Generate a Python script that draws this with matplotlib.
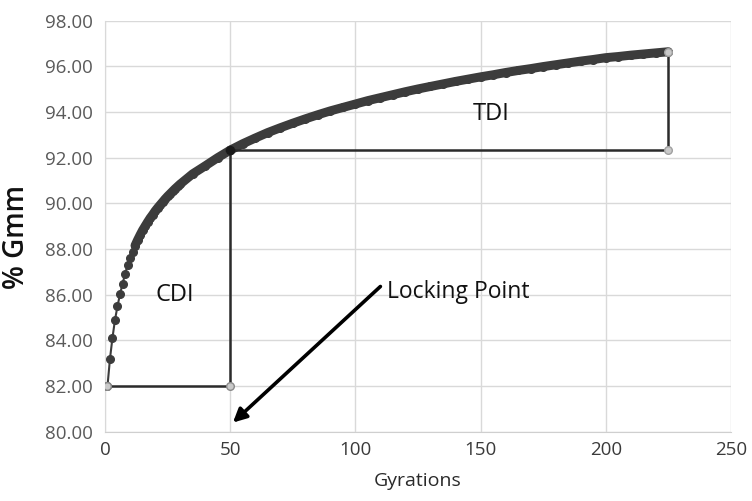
import matplotlib
matplotlib.use("Agg")
import matplotlib.pyplot as plt
import numpy as np

# Densification curve: %Gmm against gyration count
gyrations = [1, 2, 3, 4, 5, 6, 7, 8, 9, 10, 11, 12, 13, 14, 15, 16, 17, 18, 19, 20,
             21, 22, 23, 24, 25, 26, 27, 28, 29, 30, 35, 40, 45, 50, 55, 60, 65, 70,
             75, 80, 85, 90, 95, 100, 105, 110, 115, 120, 125, 130, 135, 140, 145,
             150, 155, 160, 165, 170, 175, 180, 185, 190, 195, 200, 205, 210, 215,
             220, 225]
gmm = [82.00, 83.20, 84.12, 84.90, 85.50, 86.02, 86.47, 86.90, 87.28, 87.60,
       87.89, 88.15, 88.39, 88.61, 88.82, 89.00, 89.18, 89.35, 89.50, 89.66,
       89.80, 89.93, 90.06, 90.19, 90.31, 90.42, 90.53, 90.64, 90.74, 90.84,
       91.29, 91.64, 92.00, 92.33, 92.61, 92.86, 93.10, 93.31, 93.51, 93.70,
       93.88, 94.05, 94.20, 94.35, 94.50, 94.63, 94.76, 94.89, 95.01, 95.12,
       95.23, 95.34, 95.44, 95.54, 95.63, 95.73, 95.82, 95.90, 95.99, 96.07,
       96.15, 96.23, 96.30, 96.38, 96.43, 96.49, 96.54, 96.59, 96.64]

# Construction lines for the two indices
cdi_x = [1, 50, 50]
cdi_y = [82.00, 82.00, 92.33]
tdi_x = [50, 225, 225]
tdi_y = [92.33, 92.33, 96.64]
locking_point = (50, 92.33)

FONT = "Open Sans"
CURVE = "#3c3c3c"
GRID = "#d9d9d9"

fig = plt.figure(figsize=(7.52, 5.01), dpi=100)
ax = fig.add_axes([0.1396, 0.1383, 0.8324, 0.8204])

x = np.array(gyrations)
y = np.array(gmm)
ax.plot(x, y, color=CURVE, lw=1.5, marker="o", ms=5.5, mec=CURVE, mfc=CURVE, zorder=4)
dense = x >= 12
ax.plot(x[dense], y[dense], color=CURVE, lw=6.5, solid_capstyle="round", zorder=4)

ax.plot(cdi_x, cdi_y, color="#2b2b2b", lw=1.8, marker="o", ms=5.5,
        mfc="#c9c9c9", mec="#8a8a8a", zorder=5)
ax.plot(tdi_x, tdi_y, color="#2b2b2b", lw=1.8, marker="o", ms=5.5,
        mfc="#c9c9c9", mec="#a0a0a0", zorder=5)
ax.plot(*locking_point, marker="o", ms=6, color="#1a1a1a", zorder=6)

ax.text(28, 85.99, "CDI", family=FONT, fontsize=17, color="#111111", ha="center", va="center")
ax.text(154.3, 93.92, "TDI", family=FONT, fontsize=17, color="#111111", ha="center", va="center")
ax.text(112.8, 86.1, "Locking Point", family=FONT, fontsize=16.5, color="#111111",
        ha="left", va="center")
ax.annotate("", xy=(51.1, 80.4), xytext=(110.0, 86.36),
            arrowprops=dict(arrowstyle="-|>", color="black", lw=2.6,
                            mutation_scale=20, shrinkA=0, shrinkB=0))

ax.set_xlim(0, 250)
ax.set_ylim(80, 98)
ax.set_xticks(np.arange(0, 251, 50))
ax.set_yticks(np.arange(80, 98.1, 2))
ax.set_yticklabels([f"{v:.2f}" for v in np.arange(80, 98.1, 2)])
ax.grid(True, color=GRID, lw=1.0)
ax.set_axisbelow(True)
for s in ("top", "right"):
    ax.spines[s].set_visible(False)
ax.spines["left"].set_color(GRID)
ax.spines["bottom"].set_color("#cfcfcf")
ax.tick_params(length=0)
ax.tick_params(axis="y", pad=9, labelcolor="#5a5a5a", labelsize=13.5)
ax.tick_params(axis="x", pad=7, labelcolor="#3a3a3a", labelsize=13.5)
for lab in ax.get_xticklabels() + ax.get_yticklabels():
    lab.set_family(FONT)

ax.set_xlabel("Gyrations", family=FONT, fontsize=14, color="#2a2a2a", labelpad=9)
ax.set_ylabel("% Gmm", family=FONT, fontsize=20, fontweight="semibold", color="#111111")
ax.yaxis.set_label_coords(-0.118, 0.474)

fig.savefig("out.png", facecolor="white")
